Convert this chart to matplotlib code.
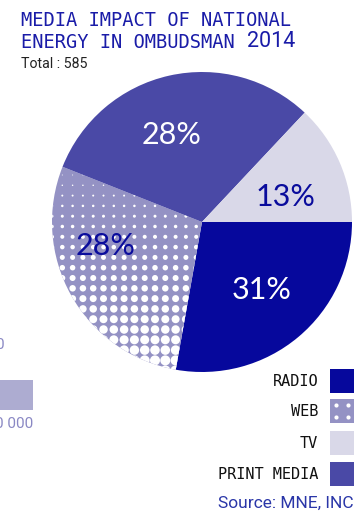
import numpy as np
import matplotlib.pyplot as plt
from matplotlib.patches import Rectangle

# data
media = ['RADIO', 'WEB', 'PRINT MEDIA', 'TV']
shares = [27.8, 28.2, 31.0, 13.0]          # slice sizes as drawn
pct_labels = ['31%', '28%', '28%', '13%']   # labels as printed
colors = ['#06089c', '#9492c4', '#4a49a6', '#d9d8e8']
legend_order = ['RADIO', 'WEB', 'TV', 'PRINT MEDIA']
total = 585

W, H = 359, 511
fig = plt.figure(figsize=(W / 100, H / 100), dpi=100)
ax = fig.add_axes([0, 0, 1, 1])

def Y(y):
    # pixel row -> data y
    return H - y

cx, cy, r = 202, 222, 150
wedges, _ = ax.pie(shares, colors=colors, startangle=0, counterclock=False,
                   center=(cx, Y(cy)), radius=r,
                   wedgeprops=dict(linewidth=0))

# halftone dots on the web slice
gx = np.arange(cx - r, cx + r, 10.3)
gy = np.arange(cy - r, cy + r, 10.3)
xx, yy = np.meshgrid(gx, gy)
d = np.clip(1.0 + (yy - 175) / 185 * 9, 0.8, 11)
dots = ax.scatter(xx.ravel(), Y(yy).ravel(), s=(d.ravel() * 0.72) ** 2,
                  color='white', linewidths=0, zorder=3)
dots.set_clip_path(wedges[1])

# percent labels
pct_pos = [(262, 290), (106, 246), (172, 135), (285, 197)]
pct_col = ['white', '#0a0c9c', 'white', '#0a0c9c']
for lab, (x, y), c in zip(pct_labels, pct_pos, pct_col):
    ax.text(x, Y(y), lab, ha='center', va='center', fontsize=22,
            color=c, family='Lato', zorder=4)

# title
ax.text(21, Y(20), 'MEDIA IMPACT OF NATIONAL', ha='left', va='center',
        fontsize=13.5, color='#1a1ca8', family='DejaVu Sans Mono')
ax.text(21, Y(42), 'ENERGY IN OMBUDSMAN ', ha='left', va='center',
        fontsize=13.5, color='#1a1ca8', family='DejaVu Sans Mono')
ax.text(247, Y(41), '2014', ha='left', va='center',
        fontsize=15.5, color='#1a1ca8', family='Roboto')
ax.text(21, Y(64), 'Total : %d' % total, ha='left', va='center',
        fontsize=10.2, color='#222222', family='Roboto')

# legend
leg_y = [381, 411, 443, 474]
for name, y in zip(legend_order, leg_y):
    i = media.index(name)
    ax.add_patch(Rectangle((330, Y(y + 12)), 24, 24, color=colors[i],
                           linewidth=0))
    if name == 'WEB':
        for ddx in (6, 18):
            for ddy in (-6, 6):
                ax.scatter(330 + ddx, Y(y + ddy), s=9, color='white',
                           linewidths=0, zorder=4)
    ax.text(318, Y(y), name, ha='right', va='center', fontsize=11,
            color='#111111', family='DejaVu Sans Mono')

ax.text(354, Y(503), 'Source: MNE, INC', ha='right', va='center',
        fontsize=12.5, color='#2a36a8', family='Roboto')

# bits of the neighbouring chart cut off at the left
ax.text(4, Y(345), '0', ha='right', va='center', fontsize=11,
        color='#8a88c4', family='Roboto')
ax.add_patch(Rectangle((0, Y(410)), 33, 30, color='#adacd1', linewidth=0))
ax.text(33, Y(424), '0 000', ha='right', va='center', fontsize=11,
        color='#8a88c4', family='Roboto')

ax.set_xlim(0, W)
ax.set_ylim(0, H)
ax.set_aspect('auto')
ax.axis('off')

fig.savefig('out.png', dpi=100)
